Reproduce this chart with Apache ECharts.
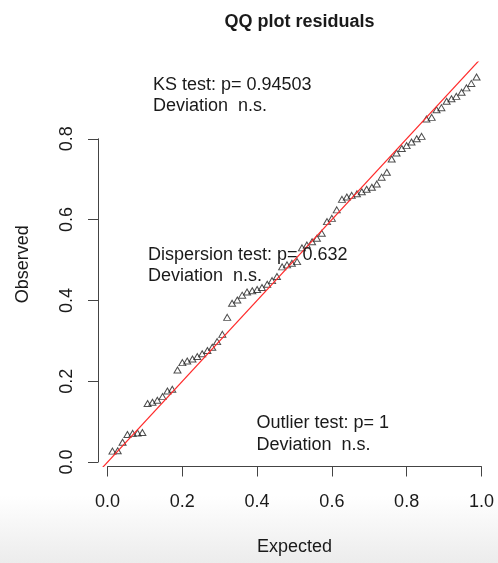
<!DOCTYPE html>
<html>
<head>
<meta charset="utf-8">
<script src="https://cdn.jsdelivr.net/npm/echarts@6/dist/echarts.min.js"></script>
<style>
html,body{margin:0;padding:0;background:#fff;}
#c{width:498px;height:563px;}
</style>
</head>
<body>
<div id="c"></div>
<script>
// Theoretical (expected) uniform quantiles, as plotted on the x axis
var expected = [0.013,0.027,0.040,0.053,0.067,0.080,0.093,0.107,0.120,0.133,
  0.147,0.160,0.173,0.187,0.200,0.213,0.227,0.240,0.253,0.267,
  0.280,0.293,0.307,0.320,0.333,0.347,0.360,0.373,0.387,0.400,
  0.413,0.427,0.440,0.453,0.467,0.480,0.493,0.507,0.520,0.533,
  0.547,0.560,0.573,0.587,0.600,0.613,0.627,0.640,0.653,0.667,
  0.680,0.693,0.707,0.720,0.733,0.747,0.760,0.773,0.787,0.800,
  0.813,0.827,0.840,0.853,0.867,0.880,0.893,0.907,0.920,0.933,
  0.947,0.960,0.973,0.987];
// Observed scaled residuals (sorted)
var observed = [0.027,0.028,0.049,0.068,0.071,0.072,0.073,
  0.145,0.148,0.153,0.162,0.176,0.180,
  0.228,
  0.246,0.250,0.255,0.261,0.268,0.276,0.284,0.298,0.316,
  0.358,
  0.393,0.401,0.413,0.421,0.424,0.427,0.432,0.440,0.449,0.459,
  0.483,0.488,0.492,0.496,
  0.530,0.537,0.545,0.554,0.566,0.595,0.603,0.624,
  0.650,0.656,0.660,0.664,0.669,0.675,0.680,0.688,0.705,0.717,
  0.750,0.765,0.776,0.783,0.792,0.800,0.806,
  0.849,0.853,0.872,0.877,
  0.893,0.899,0.905,0.915,0.926,0.937,0.953];
// 1:1 reference line end points (data units)
var refLine = [[-0.1,-0.1],[1.1,1.1]];
// Axis tick labels
var xTickLabels = ['0.0','0.2','0.4','0.6','0.8','1.0'];
var yTickLabels = ['0.0','0.2','0.4','0.6','0.8'];
var titleText = 'QQ plot residuals';
var xName = 'Expected';
var yName = 'Observed';
var notes = [
  ['KS test: p= 0.94503', 'Deviation  n.s.'],
  ['Dispersion test: p= 0.632', 'Deviation  n.s.'],
  ['Outlier test: p= 1', 'Deviation  n.s.']
];

var FONT = '"Liberation Sans", Arial, Helvetica, sans-serif';
var TXT = '#1a1a1a';
var AX = '#444';

var pts = expected.map(function (x, i) { return [x, observed[i]]; });

// plot region (grid 0); axis grids span only the tick range, like R's axis()
var g0 = {left: 98, right: 7, top: 62, bottom: 96.5};
var xMin0 = -0.0257, xMax0 = 1.0257, yMin0 = -0.011, yMax0 = 0.99;
var W = 498, H = 563;
var pw = W - g0.left - g0.right, ph = H - g0.top - g0.bottom;
var px0 = g0.left + (0 - xMin0) / (xMax0 - xMin0) * pw;
var px1 = g0.left + (1 - xMin0) / (xMax0 - xMin0) * pw;
var py0 = g0.top + (yMax0 - 0) / (yMax0 - yMin0) * ph;
var py08 = g0.top + (yMax0 - 0.8) / (yMax0 - yMin0) * ph;

var chart = echarts.init(document.getElementById('c'), null, {renderer: 'canvas'});

function noteTexts() {
  var pos = [[153, 85, 106.5], [148, 255, 276.5], [256.5, 423, 445]];
  var els = [];
  notes.forEach(function (n, k) {
    [1, 2].forEach(function (j) {
      els.push({
        type: 'text', z: 100,
        x: pos[k][0], y: pos[k][j],
        style: {text: n[j - 1], font: '18px ' + FONT, fill: TXT, verticalAlign: 'middle', align: 'left'}
      });
    });
  });
  return els;
}

chart.setOption({
  animation: false,
  backgroundColor: {
    type: 'linear', x: 0, y: 0, x2: 0, y2: 1,
    colorStops: [{offset: 0, color: '#ffffff'}, {offset: 0.88, color: '#ffffff'}, {offset: 1, color: '#ececec'}]
  },
  title: {
    text: titleText, left: (g0.left + W - g0.right) / 2, top: 8, textAlign: 'center',
    textStyle: {fontFamily: FONT, fontWeight: 'bold', fontSize: 18, color: TXT}
  },
  grid: [
    {left: g0.left, right: g0.right, top: g0.top, bottom: g0.bottom},
    {left: px0, right: W - px1, top: g0.top, bottom: g0.bottom},
    {left: g0.left, right: g0.right, top: py08, bottom: H - py0}
  ],
  xAxis: [
    {gridIndex: 0, type: 'value', min: xMin0, max: xMax0,
      name: xName, nameLocation: 'middle', nameGap: 72,
      nameTextStyle: {fontFamily: FONT, fontSize: 18, color: TXT},
      axisLine: {show: false}, axisTick: {show: false}, axisLabel: {show: false}, splitLine: {show: false}},
    {gridIndex: 1, type: 'value', min: 0, max: 1, interval: 0.2, position: 'bottom',
      axisLine: {show: true, onZero: false, lineStyle: {color: AX, width: 1}},
      axisTick: {show: true, length: 10, lineStyle: {color: AX, width: 1}},
      axisLabel: {margin: 27, fontFamily: FONT, fontSize: 18, color: TXT,
        formatter: function (v) { return xTickLabels[Math.round(v / 0.2)]; }},
      splitLine: {show: false}},
    {gridIndex: 2, type: 'value', min: 0, max: 1, show: false}
  ],
  yAxis: [
    {gridIndex: 0, type: 'value', min: yMin0, max: yMax0,
      name: yName, nameLocation: 'middle', nameGap: 66,
      nameTextStyle: {fontFamily: FONT, fontSize: 18, color: TXT},
      axisLine: {show: false}, axisTick: {show: false}, axisLabel: {show: false}, splitLine: {show: false}},
    {gridIndex: 1, type: 'value', min: 0, max: 1, show: false},
    {gridIndex: 2, type: 'value', min: 0, max: 0.8, interval: 0.2, position: 'left',
      axisLine: {show: true, onZero: false, lineStyle: {color: AX, width: 1}},
      axisTick: {show: true, length: 10, lineStyle: {color: AX, width: 1}},
      axisLabel: {margin: 21.5, rotate: 90, fontFamily: FONT, fontSize: 18, color: TXT,
        formatter: function (v) { return yTickLabels[Math.round(v / 0.2)]; }},
      splitLine: {show: false}}
  ],
  series: [
    {type: 'scatter', xAxisIndex: 0, yAxisIndex: 0, data: pts, symbol: 'triangle', symbolSize: [7, 6],
      itemStyle: {color: 'rgba(0,0,0,0)', borderColor: '#222', borderWidth: 1}, z: 2, silent: true},
    {type: 'line', xAxisIndex: 0, yAxisIndex: 0, data: refLine, symbol: 'none', clip: true,
      lineStyle: {color: '#ff2a2a', width: 1.2}, z: 3, silent: true}
  ],
  graphic: noteTexts()
});
</script>
</body>
</html>
